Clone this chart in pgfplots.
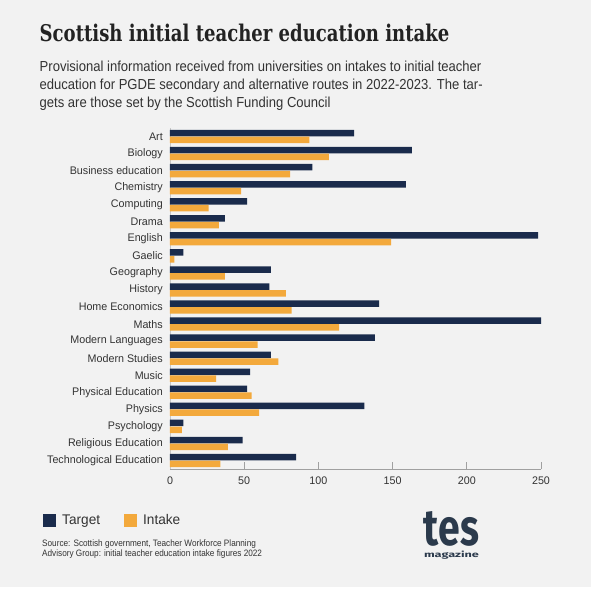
\documentclass[border=0pt]{standalone}
\usepackage{fontspec}
\setmainfont{Liberation Sans}
\newfontfamily\titlefont{DejaVu Serif}[FakeStretch=0.785]
\newfontfamily\subfont{Liberation Sans}[FakeStretch=0.90]
\newfontfamily\srcfont{Liberation Sans}[FakeStretch=0.883]
\newfontfamily\labfont{Liberation Sans}[FakeStretch=0.975]
\newfontfamily\logofont{Fira Sans}
\usepackage{pgfplots}
\usepackage{pgfplotstable}
\pgfplotsset{compat=1.18}
\definecolor{bgc}{HTML}{F2F2F2}
\definecolor{navy}{HTML}{1A2B4C}
\definecolor{orng}{HTML}{F3A93C}
\definecolor{ttl}{HTML}{222222}
\definecolor{txt}{HTML}{333333}
\definecolor{axg}{HTML}{A0A0A0}
\definecolor{logoc}{HTML}{2B3A4C}
\pgfplotstableread{
idx target intake
0 124 94
1 163 107
2 96 81
3 159 48
4 52 26
5 37 33
6 248 149
7 9 3
8 68 37
9 67 78
10 141 82
11 250 114
12 138 59
13 68 73
14 54 31
15 52 55
16 131 60
17 9 8
18 49 39
19 85 34
}\data
\begin{document}
\begin{tikzpicture}
\fill[white] (0pt,0pt) rectangle (591pt,-600pt);
\fill[bgc] (0pt,0pt) rectangle (591pt,-587pt);
\node[anchor=base west, inner sep=0pt, text=ttl] at (39.5pt,-41pt) {\titlefont\bfseries\fontsize{23}{27}\selectfont Scottish initial teacher education intake};
\node[anchor=base west, inner sep=0pt, text=txt] at (39.5pt,-71.5pt) {\subfont\fontsize{14.5}{18}\selectfont Provisional information received from universities on intakes to initial teacher};
\node[anchor=base west, inner sep=0pt, text=txt] at (39.5pt,-89.5pt) {\subfont\fontsize{14.5}{18}\selectfont education for PGDE secondary and alternative routes in 2022-2023. The tar-};
\node[anchor=base west, inner sep=0pt, text=txt] at (39.5pt,-107.5pt) {\subfont\fontsize{14.5}{18}\selectfont gets are those set by the Scottish Funding Council};
\node[anchor=base west, inner sep=0pt, text=txt] at (42pt,-546pt) {\srcfont\fontsize{9.3}{11}\selectfont Source: Scottish government, Teacher Workforce Planning};
\node[anchor=base west, inner sep=0pt, text=txt] at (42pt,-556.5pt) {\srcfont\fontsize{9.3}{11}\selectfont Advisory Group: initial teacher education intake figures 2022};
\node[anchor=north, inner sep=0pt, text=logoc, align=center] at (451.5pt,-511pt) {\resizebox{55pt}{34pt}{\logofont\bfseries tes}\\[0pt]\resizebox{55pt}{6.5pt}{\logofont\bfseries magazine}};
\begin{axis}[
  at={(170pt,-469pt)}, anchor=south west,
  width=371pt, height=341pt, scale only axis,
  xmin=0, xmax=250, ymin=-0.5, ymax=19.5, y dir=reverse,
  axis x line*=bottom, axis y line*=left,
  x axis line style={draw=axg, line width=0.8pt},
  y axis line style={draw=axg!60, line width=0.5pt},
  xtick={0,50,...,250}, ytick={0,...,19},
  yticklabels={Art,Biology,Business education,Chemistry,Computing,Drama,English,Gaelic,Geography,History,Home Economics,Maths,Modern Languages,Modern Studies,Music,Physical Education,Physics,Psychology,Religious Education,Technological Education},
  xtick align=inside,
  major tick length=7pt,
  x tick style={draw=axg, line width=0.8pt},
  y tick style={draw=none},
  ticklabel style={font=\labfont\fontsize{11}{13}\selectfont, text=txt},
  yticklabel style={anchor=east, inner sep=0pt, xshift=-7pt},
  xticklabel style={anchor=north, inner sep=0pt, yshift=-7.5pt},
  /pgf/number format/assume math mode=true,
  legend columns=2,
  legend image code/.code={\fill[#1,draw=none] (0pt,-6.5pt) rectangle (13pt,6.5pt);},
  legend style={at={(axis description cs:-0.3423,-0.1261)}, anchor=north west, draw=none, fill=none, inner sep=0pt, font=\labfont\fontsize{14}{16}\selectfont, text=txt, /tikz/every odd column/.append style={column sep=4pt}, /tikz/every even column/.append style={column sep=22pt}},
]
\addplot[xbar, bar width=6.5pt, bar shift=3.4pt, fill=navy, draw=none] table[x=target,y=idx]{\data};
\addplot[xbar, bar width=6.5pt, bar shift=-3.4pt, fill=orng, draw=none] table[x=intake,y=idx]{\data};
\legend{Target,Intake}
\end{axis}
\end{tikzpicture}
\end{document}
